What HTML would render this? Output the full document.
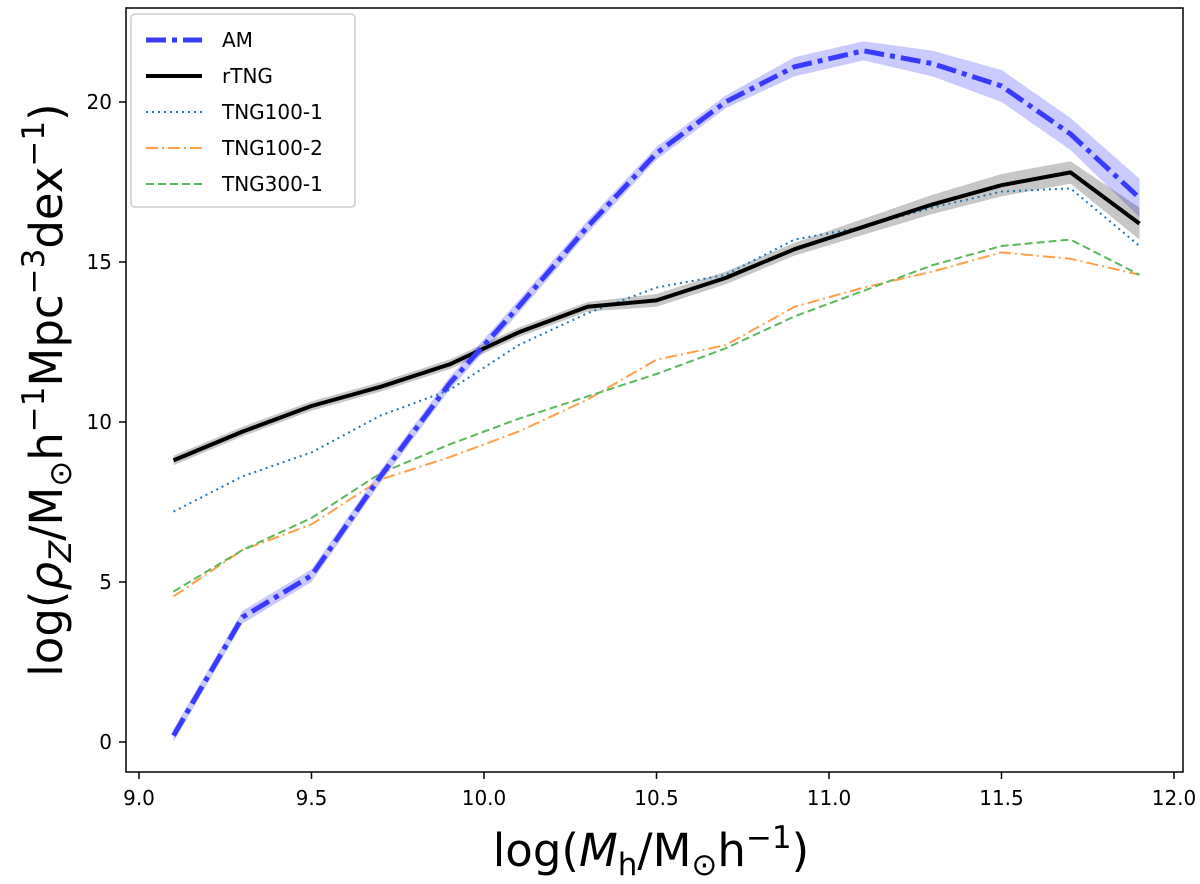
<!DOCTYPE html>
<html><head><meta charset="utf-8"><style>
html,body{margin:0;padding:0;background:#fff;}
svg{display:block;font-family:"DejaVu Sans","Liberation Sans",sans-serif;}
</style></head><body>
<svg id="chart" width="1200" height="884" viewBox="0 0 1200 884" xmlns="http://www.w3.org/2000/svg"></svg>
<script>
const xVals=[9.1,9.3,9.5,9.7,9.9,10.1,10.3,10.5,10.7,10.9,11.1,11.3,11.5,11.7,11.9];
const amVals=[0.2,3.9,5.2,8.3,11.2,13.6,16.1,18.4,20.0,21.1,21.6,21.2,20.5,19.0,17.0];
const amErr=[0.2,0.2,0.2,0.2,0.2,0.2,0.2,0.2,0.2,0.3,0.3,0.4,0.5,0.5,0.6];
const rtngVals=[8.8,9.7,10.5,11.1,11.8,12.8,13.6,13.8,14.5,15.4,16.1,16.8,17.4,17.8,16.2];
const rtngErr=[0.15,0.15,0.15,0.15,0.15,0.15,0.15,0.2,0.2,0.2,0.25,0.3,0.35,0.35,0.5];
const tng1001=[7.2,8.3,9.05,10.2,11.0,12.4,13.4,14.2,14.6,15.7,16.1,16.7,17.2,17.3,15.5];
const tng1002=[4.55,6.0,6.8,8.2,8.9,9.7,10.7,11.95,12.4,13.6,14.2,14.7,15.3,15.1,14.6];
const tng3001=[4.7,6.0,7.0,8.4,9.3,10.1,10.8,11.5,12.3,13.3,14.1,14.9,15.5,15.7,14.6];
const xTicks=[9.0,9.5,10.0,10.5,11.0,11.5,12.0];
const yTicks=[0,5,10,15,20];
const X=v=>139+(v-9)*345;
const Y=v=>742-v*32;
const svg=document.getElementById('chart');
const NS='http://www.w3.org/2000/svg';
function mk(tag,attrs,parent){const e=document.createElementNS(NS,tag);for(const k in attrs)e.setAttribute(k,attrs[k]);(parent||svg).appendChild(e);return e;}
function band(vals,err,fill,name){
  let d='M'+xVals.map((x,i)=>X(x)+','+Y(vals[i]+err[i])).join('L');
  d+='L'+xVals.map((x,i)=>X(x)+','+Y(vals[i]-err[i])).reverse().join('L')+'Z';
  const p=mk('path',{d:d,fill:fill,stroke:'none'});
  
  
}
function line(vals,color,w,dash,name){
  const p=mk('polyline',{points:xVals.map((x,i)=>X(x)+','+Y(vals[i])).join(' '),fill:'none',stroke:color,'stroke-width':w,'stroke-dasharray':dash,'stroke-linejoin':'round'});
  
  
}
band(amVals,amErr,'rgba(80,80,255,0.3)','am-band');
band(rtngVals,rtngErr,'rgba(0,0,0,0.22)','rtng-band');
line(tng1001,'#1f77b4',2,'2,4','tng100-1-line');
line(tng1002,'#ff9f4a',2,'12,4,2,4','tng100-2-line');
line(tng3001,'#5cb85c',2,'8,4','tng300-1-line');
line(rtngVals,'#000',4,'none','rtng-line');
line(amVals,'#3a3aff',5,'20,6,5,6','am-line');
const f=mk('rect',{x:126,y:8,width:1057,height:764,fill:'none',stroke:'#000','stroke-width':1.5});

xTicks.forEach(t=>{
  const l=mk('line',{x1:X(t),x2:X(t),y1:772,y2:779,stroke:'#000','stroke-width':1.5});
  
  const tx=mk('text',{x:X(t),y:805,'text-anchor':'middle','font-size':20});
  tx.textContent=t.toFixed(1);
  
});
yTicks.forEach(t=>{
  const l=mk('line',{x1:119,x2:126,y1:Y(t),y2:Y(t),stroke:'#000','stroke-width':1.5});
  
  const tx=mk('text',{x:112,y:Y(t)+7,'text-anchor':'end','font-size':20});
  tx.textContent=t;
  
});
</script>
<svg style="position:absolute;left:0;top:0" width="1200" height="884" xmlns="http://www.w3.org/2000/svg" font-family="DejaVu Sans, Liberation Sans, sans-serif">
<text x="651" y="866" text-anchor="middle" font-size="45">log(<tspan font-style="italic">M</tspan><tspan font-size="31" dy="9">h</tspan><tspan dy="-9">/M</tspan><tspan font-size="31" dy="9">⊙</tspan><tspan dy="-9">h</tspan><tspan font-size="31" dy="-18">−1</tspan><tspan dy="18">)</tspan></text>
<text transform="translate(62,390) rotate(-90)" text-anchor="middle" font-size="45">log(<tspan font-style="italic">ρ</tspan><tspan font-size="31" dy="9" font-style="italic">Z</tspan><tspan dy="-9">/M</tspan><tspan font-size="31" dy="9">⊙</tspan><tspan dy="-9">h</tspan><tspan font-size="31" dy="-18">−1</tspan><tspan dy="18">Mpc</tspan><tspan font-size="31" dy="-18">−3</tspan><tspan dy="18">dex</tspan><tspan font-size="31" dy="-18">−1</tspan><tspan dy="18">)</tspan></text>
<g>
<rect x="131" y="14" width="224" height="193" rx="4" fill="#fff" fill-opacity="0.85" stroke="#ccc" stroke-width="1.5"/>
<line x1="146" y1="40" x2="202" y2="40" stroke="#3a3aff" stroke-width="5" stroke-dasharray="20,6,5,6"/>
<text x="222" y="47" font-size="20">AM</text>
<line x1="146" y1="76" x2="202" y2="76" stroke="#000" stroke-width="4"/>
<text x="222" y="83" font-size="20">rTNG</text>
<line x1="146" y1="112" x2="202" y2="112" stroke="#1f77b4" stroke-width="2" stroke-dasharray="2,4"/>
<text x="222" y="119" font-size="20">TNG100-1</text>
<line x1="146" y1="148" x2="202" y2="148" stroke="#ff9f4a" stroke-width="2" stroke-dasharray="12,4,2,4"/>
<text x="222" y="155" font-size="20">TNG100-2</text>
<line x1="146" y1="184" x2="202" y2="184" stroke="#5cb85c" stroke-width="2" stroke-dasharray="8,4"/>
<text x="222" y="191" font-size="20">TNG300-1</text>
</g>
</svg>
</body></html>
